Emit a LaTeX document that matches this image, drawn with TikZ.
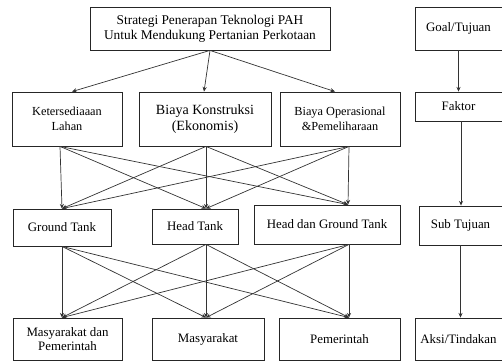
\documentclass[tikz,border=0pt]{standalone}
\usepackage{fontspec}
\setmainfont{Liberation Serif}
\usetikzlibrary{arrows.meta}

\tikzset{
	box/.style={draw=black!85, line width=0.7pt, align=center, inner sep=1pt, font=\fontsize{11}{12.5}\selectfont},
	small/.style={font=\fontsize{10.5}{12.5}\selectfont},
	large/.style={font=\fontsize{12}{14}\selectfont},
	arr/.style={-{Stealth[length=4pt,width=3.5pt]}, draw=black!80, line width=0.6pt}
}

\begin{document}
\begin{tikzpicture}[x=0.3mm, y=-0.3mm]
	\useasboundingbox (0,0) rectangle (502,360);
	% hierarki utama
	\node[box, font=\fontsize{11.4}{12.5}\selectfont, minimum width=72mm, minimum height=12.9mm] (strategi) at (210,28.5) {Strategi Penerapan Teknologi PAH\\Untuk Mendukung Pertanian Perkotaan};
	\node[box, small, minimum width=33mm, minimum height=16.2mm] (lahan) at (67,119) {Ketersediaaan\\Lahan};
	\node[box, large, minimum width=39.6mm, minimum height=16.2mm] (konstruksi) at (205,119) {Biaya Konstruksi\\(Ekonomis)};
	\node[box, small, minimum width=36mm, minimum height=16.2mm] (operasional) at (340,119) {Biaya Operasional\\\&Pemeliharaan};
	\node[box, minimum width=29.4mm, minimum height=11.1mm] (ground) at (62,227.5) {Ground Tank};
	\node[box, minimum width=25.8mm, minimum height=10.5mm] (head) at (195,226.5) {Head Tank};
	\node[box, minimum width=43.8mm, minimum height=11.7mm] (headground) at (327,224.5) {Head dan Ground Tank};
	\node[box, minimum width=32.7mm, minimum height=12.6mm] (maspem) at (67.5,339) {Masyarakat dan\\Pemerintah};
	\node[box, minimum width=33.6mm, minimum height=12.6mm] (masyarakat) at (208,339) {Masyarakat};
	\node[box, minimum width=36.3mm, minimum height=12.6mm] (pemerintah) at (339.5,339) {Pemerintah};
	% keterangan tingkat
	\node[box, minimum width=26.1mm, minimum height=12.9mm] (goal) at (458.5,28.5) {Goal/Tujuan};
	\node[box, minimum width=26.1mm, minimum height=8.7mm] (faktor) at (458.5,106.5) {Faktor};
	\node[box, minimum width=24.9mm, minimum height=11.7mm] (sub) at (460.5,225.5) {Sub Tujuan};
	\node[box, minimum width=26.1mm, minimum height=12.6mm] (aksi) at (458.5,339) {Aksi/Tindakan};

	\foreach \t/\tx in {lahan/72,konstruksi/204,operasional/335}
		\draw[arr] (strategi.south) -- (\t.north -| \tx,0);
	\foreach \s/\sx in {lahan/60,konstruksi/206,operasional/349}
		\foreach \t/\tx in {ground/62,head/206,headground/348}
			\draw[arr] (\s.south -| \sx,0) -- (\t.north -| \tx,0);
	\foreach \s/\sx in {ground/62,head/206,headground/349}
		\foreach \t/\tx in {maspem/62,masyarakat/206,pemerintah/349}
			\draw[arr] (\s.south -| \sx,0) -- (\t.north -| \tx,0);

	\draw[arr] (goal) -- (faktor);
	\draw[arr] (faktor.south -| 461,0) -- (sub.north -| 461,0);
	\draw[arr] (sub) -- (aksi.north -| sub.south);
\end{tikzpicture}
\end{document}
